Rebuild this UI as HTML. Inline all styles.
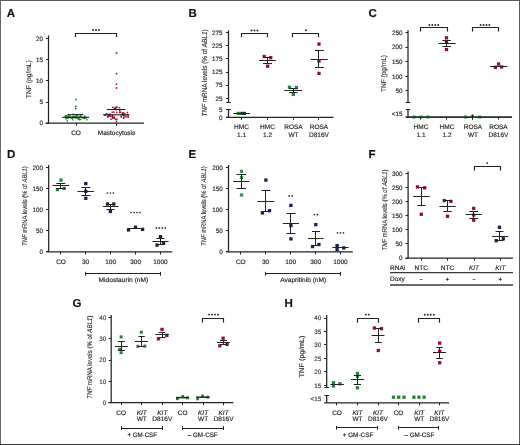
<!DOCTYPE html>
<html><head><meta charset="utf-8"><title>Figure</title>
<style>
html,body{margin:0;padding:0;background:#fff;}
body{width:520px;height:445px;overflow:hidden;}
svg{display:block;font-family:"Liberation Sans",sans-serif;will-change:transform;text-rendering:geometricPrecision;}
</style></head>
<body>
<svg width="520" height="445" viewBox="0 0 520 445">
<rect x="0" y="0" width="520" height="445" fill="#fff"/>
<text x="6.8" y="16.6" font-size="11.5" text-anchor="start" fill="#111" stroke="#111" stroke-width="0.15" font-weight="bold">A</text>
<line x1="48.5" y1="35.5" x2="48.5" y2="123.2" stroke="#222" stroke-width="1.25"/>
<line x1="45.9" y1="123.5" x2="48.5" y2="123.5" stroke="#222" stroke-width="1.0"/>
<text x="43" y="125.47" font-size="6.3" text-anchor="end" fill="#222" stroke="#222" stroke-width="0.15">0</text>
<line x1="45.9" y1="102.5" x2="48.5" y2="102.5" stroke="#222" stroke-width="1.0"/>
<text x="43" y="104.27" font-size="6.3" text-anchor="end" fill="#222" stroke="#222" stroke-width="0.15">5</text>
<line x1="45.9" y1="80.5" x2="48.5" y2="80.5" stroke="#222" stroke-width="1.0"/>
<text x="43" y="83.07" font-size="6.3" text-anchor="end" fill="#222" stroke="#222" stroke-width="0.15">10</text>
<line x1="45.9" y1="59.5" x2="48.5" y2="59.5" stroke="#222" stroke-width="1.0"/>
<text x="43" y="61.87" font-size="6.3" text-anchor="end" fill="#222" stroke="#222" stroke-width="0.15">15</text>
<line x1="45.9" y1="38.5" x2="48.5" y2="38.5" stroke="#222" stroke-width="1.0"/>
<text x="43" y="40.77" font-size="6.3" text-anchor="end" fill="#222" stroke="#222" stroke-width="0.15">20</text>
<line x1="45.6" y1="123.2" x2="144" y2="123.2" stroke="#222" stroke-width="1.25"/>
<line x1="76.5" y1="123.2" x2="76.5" y2="125.8" stroke="#222" stroke-width="1.0"/>
<line x1="116.5" y1="123.2" x2="116.5" y2="125.8" stroke="#222" stroke-width="1.0"/>
<text x="76" y="134.94" font-size="6.5" text-anchor="middle" fill="#222" stroke="#222" stroke-width="0.15">CO</text>
<text x="116.5" y="134.94" font-size="6.5" text-anchor="middle" fill="#222" stroke="#222" stroke-width="0.15" textLength="37.5" lengthAdjust="spacingAndGlyphs">Mastocytosis</text>
<text transform="translate(30.78,79.2) rotate(-90)" x="0" y="0" font-size="6.9" text-anchor="middle" fill="#2a2a2a" stroke="#2a2a2a" stroke-width="0.12" textLength="38" lengthAdjust="spacingAndGlyphs">TNF (pg/mL)</text>
<path d="M75.5,37.1V33.5H116.5V37.1" fill="none" stroke="#222" stroke-width="1.15"/>
<circle cx="93.05" cy="30" r="0.95" fill="#222"/>
<circle cx="96" cy="30" r="0.95" fill="#222"/>
<circle cx="98.95" cy="30" r="0.95" fill="#222"/>
<rect x="71.25" y="117.64" width="1.4" height="1.4" fill="#1f7f2a"/>
<rect x="65.47" y="118.09" width="1.4" height="1.4" fill="#1f7f2a"/>
<rect x="76.13" y="116.19" width="1.4" height="1.4" fill="#1f7f2a"/>
<rect x="75.47" y="116.85" width="1.4" height="1.4" fill="#1f7f2a"/>
<rect x="64.66" y="116.03" width="1.4" height="1.4" fill="#1f7f2a"/>
<rect x="65.89" y="116.71" width="1.4" height="1.4" fill="#1f7f2a"/>
<rect x="73.56" y="116.82" width="1.4" height="1.4" fill="#1f7f2a"/>
<rect x="68.93" y="115.89" width="1.4" height="1.4" fill="#1f7f2a"/>
<rect x="78.23" y="118.18" width="1.4" height="1.4" fill="#1f7f2a"/>
<rect x="72.92" y="115.93" width="1.4" height="1.4" fill="#1f7f2a"/>
<rect x="86.25" y="119.06" width="1.4" height="1.4" fill="#1f7f2a"/>
<rect x="70.46" y="117.27" width="1.4" height="1.4" fill="#1f7f2a"/>
<rect x="67.12" y="117.36" width="1.4" height="1.4" fill="#1f7f2a"/>
<rect x="82.57" y="117.28" width="1.4" height="1.4" fill="#1f7f2a"/>
<rect x="67.96" y="114.82" width="1.4" height="1.4" fill="#1f7f2a"/>
<rect x="72.37" y="115.55" width="1.4" height="1.4" fill="#1f7f2a"/>
<rect x="76.4" y="116.94" width="1.4" height="1.4" fill="#1f7f2a"/>
<rect x="68.54" y="116.68" width="1.4" height="1.4" fill="#1f7f2a"/>
<rect x="79.45" y="115.45" width="1.4" height="1.4" fill="#1f7f2a"/>
<rect x="77.27" y="117.02" width="1.4" height="1.4" fill="#1f7f2a"/>
<rect x="74.22" y="115.76" width="1.4" height="1.4" fill="#1f7f2a"/>
<rect x="79.88" y="118.78" width="1.4" height="1.4" fill="#1f7f2a"/>
<rect x="69.41" y="115.03" width="1.4" height="1.4" fill="#1f7f2a"/>
<rect x="83.93" y="115.76" width="1.4" height="1.4" fill="#1f7f2a"/>
<rect x="80.58" y="115.61" width="1.4" height="1.4" fill="#1f7f2a"/>
<rect x="66.52" y="120.17" width="1.4" height="1.4" fill="#1f7f2a"/>
<rect x="73.42" y="116.53" width="1.4" height="1.4" fill="#1f7f2a"/>
<rect x="75.05" y="115.73" width="1.4" height="1.4" fill="#1f7f2a"/>
<rect x="64.7" y="115.37" width="1.4" height="1.4" fill="#1f7f2a"/>
<rect x="76.98" y="114.5" width="1.4" height="1.4" fill="#1f7f2a"/>
<rect x="83.94" y="115.69" width="1.4" height="1.4" fill="#1f7f2a"/>
<rect x="77.47" y="118.42" width="1.4" height="1.4" fill="#1f7f2a"/>
<rect x="77.14" y="114.01" width="1.4" height="1.4" fill="#1f7f2a"/>
<rect x="85.53" y="117.2" width="1.4" height="1.4" fill="#1f7f2a"/>
<rect x="74.7" y="116.25" width="1.4" height="1.4" fill="#1f7f2a"/>
<rect x="79.93" y="116.09" width="1.4" height="1.4" fill="#1f7f2a"/>
<rect x="78.68" y="119.01" width="1.4" height="1.4" fill="#1f7f2a"/>
<rect x="70.35" y="116.39" width="1.4" height="1.4" fill="#1f7f2a"/>
<rect x="72.67" y="116.36" width="1.4" height="1.4" fill="#1f7f2a"/>
<rect x="74.42" y="116.25" width="1.4" height="1.4" fill="#1f7f2a"/>
<rect x="67.67" y="116.85" width="1.4" height="1.4" fill="#1f7f2a"/>
<rect x="81.47" y="116.82" width="1.4" height="1.4" fill="#1f7f2a"/>
<rect x="66.77" y="116.52" width="1.4" height="1.4" fill="#1f7f2a"/>
<rect x="83.84" y="117.84" width="1.4" height="1.4" fill="#1f7f2a"/>
<rect x="65.65" y="114.88" width="1.4" height="1.4" fill="#1f7f2a"/>
<rect x="84.12" y="117.04" width="1.4" height="1.4" fill="#1f7f2a"/>
<rect x="82.64" y="117.22" width="1.4" height="1.4" fill="#1f7f2a"/>
<rect x="73.35" y="115.68" width="1.4" height="1.4" fill="#1f7f2a"/>
<rect x="72.05" y="119.04" width="1.4" height="1.4" fill="#1f7f2a"/>
<rect x="67.27" y="114.24" width="1.4" height="1.4" fill="#1f7f2a"/>
<rect x="67.85" y="116.61" width="1.4" height="1.4" fill="#1f7f2a"/>
<rect x="74.95" y="117.48" width="1.4" height="1.4" fill="#1f7f2a"/>
<rect x="77.35" y="116.49" width="1.4" height="1.4" fill="#1f7f2a"/>
<rect x="73.44" y="116.62" width="1.4" height="1.4" fill="#1f7f2a"/>
<rect x="72.29" y="113.45" width="1.4" height="1.4" fill="#1f7f2a"/>
<rect x="79.68" y="115.15" width="1.4" height="1.4" fill="#1f7f2a"/>
<rect x="75.66" y="115" width="1.4" height="1.4" fill="#1f7f2a"/>
<rect x="65.04" y="115.13" width="1.4" height="1.4" fill="#1f7f2a"/>
<rect x="84.49" y="117.01" width="1.4" height="1.4" fill="#1f7f2a"/>
<rect x="82.15" y="113.8" width="1.4" height="1.4" fill="#1f7f2a"/>
<rect x="72.82" y="115.99" width="1.4" height="1.4" fill="#1f7f2a"/>
<rect x="78.39" y="116.87" width="1.4" height="1.4" fill="#1f7f2a"/>
<rect x="65.23" y="117.34" width="1.4" height="1.4" fill="#1f7f2a"/>
<rect x="67.53" y="116.88" width="1.4" height="1.4" fill="#1f7f2a"/>
<rect x="71.62" y="116.53" width="1.4" height="1.4" fill="#1f7f2a"/>
<rect x="67.28" y="116.51" width="1.4" height="1.4" fill="#1f7f2a"/>
<rect x="66.13" y="116.3" width="1.4" height="1.4" fill="#1f7f2a"/>
<rect x="83.91" y="116.73" width="1.4" height="1.4" fill="#1f7f2a"/>
<rect x="77.92" y="117.11" width="1.4" height="1.4" fill="#1f7f2a"/>
<rect x="71.79" y="117.33" width="1.4" height="1.4" fill="#1f7f2a"/>
<rect x="75" y="98.7" width="1.6" height="1.6" fill="#1f7f2a"/>
<rect x="75" y="105.6" width="1.6" height="1.6" fill="#1f7f2a"/>
<rect x="75" y="107.9" width="1.6" height="1.6" fill="#1f7f2a"/>
<line x1="62.2" y1="117.3" x2="89" y2="117.3" stroke="#1a1a1a" stroke-width="1.1"/>
<line x1="68" y1="114.5" x2="83" y2="114.5" stroke="#1a1a1a" stroke-width="0.9"/>
<rect x="114.53" y="106.75" width="1.5" height="1.5" fill="#9a0c30"/>
<rect x="118.89" y="111.71" width="1.5" height="1.5" fill="#9a0c30"/>
<rect x="115.44" y="108.81" width="1.5" height="1.5" fill="#9a0c30"/>
<rect x="112.02" y="106.63" width="1.5" height="1.5" fill="#9a0c30"/>
<rect x="114.33" y="107.56" width="1.5" height="1.5" fill="#9a0c30"/>
<rect x="118.71" y="106.97" width="1.5" height="1.5" fill="#9a0c30"/>
<rect x="111.46" y="111.47" width="1.5" height="1.5" fill="#9a0c30"/>
<rect x="116" y="106.89" width="1.5" height="1.5" fill="#9a0c30"/>
<rect x="116.14" y="106.2" width="1.5" height="1.5" fill="#9a0c30"/>
<rect x="116" y="111.63" width="1.5" height="1.5" fill="#9a0c30"/>
<rect x="119.02" y="110.02" width="1.5" height="1.5" fill="#9a0c30"/>
<rect x="113.6" y="108.14" width="1.5" height="1.5" fill="#9a0c30"/>
<rect x="107.76" y="114.65" width="1.5" height="1.5" fill="#9a0c30"/>
<rect x="122.45" y="112.98" width="1.5" height="1.5" fill="#9a0c30"/>
<rect x="111.66" y="114.82" width="1.5" height="1.5" fill="#9a0c30"/>
<rect x="127.39" y="116.61" width="1.5" height="1.5" fill="#9a0c30"/>
<rect x="124.21" y="115.21" width="1.5" height="1.5" fill="#9a0c30"/>
<rect x="121.51" y="112.37" width="1.5" height="1.5" fill="#9a0c30"/>
<rect x="109.19" y="113.33" width="1.5" height="1.5" fill="#9a0c30"/>
<rect x="104.45" y="114.33" width="1.5" height="1.5" fill="#9a0c30"/>
<rect x="104.42" y="114.28" width="1.5" height="1.5" fill="#9a0c30"/>
<rect x="120.37" y="115.36" width="1.5" height="1.5" fill="#9a0c30"/>
<rect x="126.71" y="111.78" width="1.5" height="1.5" fill="#9a0c30"/>
<rect x="127.46" y="115.37" width="1.5" height="1.5" fill="#9a0c30"/>
<rect x="126.67" y="113.89" width="1.5" height="1.5" fill="#9a0c30"/>
<rect x="109.19" y="115.09" width="1.5" height="1.5" fill="#9a0c30"/>
<rect x="108.47" y="114.92" width="1.5" height="1.5" fill="#9a0c30"/>
<rect x="125.36" y="116.06" width="1.5" height="1.5" fill="#9a0c30"/>
<rect x="123.92" y="112.72" width="1.5" height="1.5" fill="#9a0c30"/>
<rect x="122.94" y="114.67" width="1.5" height="1.5" fill="#9a0c30"/>
<rect x="105.78" y="113.05" width="1.5" height="1.5" fill="#9a0c30"/>
<rect x="122.53" y="112.22" width="1.5" height="1.5" fill="#9a0c30"/>
<rect x="121.75" y="113.7" width="1.5" height="1.5" fill="#9a0c30"/>
<rect x="122.69" y="114.55" width="1.5" height="1.5" fill="#9a0c30"/>
<rect x="111.73" y="115.46" width="1.5" height="1.5" fill="#9a0c30"/>
<rect x="113.25" y="111.41" width="1.5" height="1.5" fill="#9a0c30"/>
<rect x="113.38" y="116.27" width="1.5" height="1.5" fill="#9a0c30"/>
<rect x="107.83" y="113.82" width="1.5" height="1.5" fill="#9a0c30"/>
<rect x="106.8" y="115.96" width="1.5" height="1.5" fill="#9a0c30"/>
<rect x="123.11" y="116.57" width="1.5" height="1.5" fill="#9a0c30"/>
<rect x="107.26" y="116.01" width="1.5" height="1.5" fill="#9a0c30"/>
<rect x="119.52" y="111.47" width="1.5" height="1.5" fill="#9a0c30"/>
<rect x="113.51" y="117.4" width="1.5" height="1.5" fill="#9a0c30"/>
<rect x="110.21" y="115.79" width="1.5" height="1.5" fill="#9a0c30"/>
<rect x="122.81" y="117.7" width="1.5" height="1.5" fill="#9a0c30"/>
<rect x="116.15" y="118.55" width="1.5" height="1.5" fill="#9a0c30"/>
<rect x="114.76" y="118.37" width="1.5" height="1.5" fill="#9a0c30"/>
<rect x="120.64" y="116.38" width="1.5" height="1.5" fill="#9a0c30"/>
<rect x="112.03" y="116.63" width="1.5" height="1.5" fill="#9a0c30"/>
<rect x="111.86" y="117.51" width="1.5" height="1.5" fill="#9a0c30"/>
<rect x="112.14" y="117.01" width="1.5" height="1.5" fill="#9a0c30"/>
<rect x="110.22" y="118.48" width="1.5" height="1.5" fill="#9a0c30"/>
<rect x="115.7" y="52.2" width="1.6" height="1.6" fill="#9a0c30"/>
<rect x="115.7" y="72.8" width="1.6" height="1.6" fill="#9a0c30"/>
<rect x="115.7" y="83.4" width="1.6" height="1.6" fill="#9a0c30"/>
<rect x="115.7" y="87.2" width="1.6" height="1.6" fill="#9a0c30"/>
<rect x="115.7" y="120.6" width="1.6" height="1.6" fill="#9a0c30"/>
<line x1="103" y1="114.8" x2="129.5" y2="114.8" stroke="#1a1a1a" stroke-width="1.1"/>
<line x1="107" y1="109.5" x2="125.2" y2="109.5" stroke="#1a1a1a" stroke-width="1.0"/>
<text x="188.5" y="16.8" font-size="11.5" text-anchor="start" fill="#111" stroke="#111" stroke-width="0.15" font-weight="bold">B</text>
<line x1="228.5" y1="30.3" x2="228.5" y2="102.4" stroke="#222" stroke-width="1.25"/>
<line x1="228.5" y1="109.7" x2="228.5" y2="117.3" stroke="#222" stroke-width="1.25"/>
<line x1="226.2" y1="102.5" x2="230.8" y2="102.5" stroke="#222" stroke-width="1.0"/>
<line x1="226.2" y1="109.5" x2="230.8" y2="109.5" stroke="#222" stroke-width="1.0"/>
<line x1="225.9" y1="32.5" x2="228.5" y2="32.5" stroke="#222" stroke-width="1.0"/>
<text x="222.6" y="34.97" font-size="6.3" text-anchor="end" fill="#222" stroke="#222" stroke-width="0.15">275</text>
<line x1="225.9" y1="45.5" x2="228.5" y2="45.5" stroke="#222" stroke-width="1.0"/>
<text x="222.6" y="48.07" font-size="6.3" text-anchor="end" fill="#222" stroke="#222" stroke-width="0.15">225</text>
<line x1="225.9" y1="58.5" x2="228.5" y2="58.5" stroke="#222" stroke-width="1.0"/>
<text x="222.6" y="61.17" font-size="6.3" text-anchor="end" fill="#222" stroke="#222" stroke-width="0.15">175</text>
<line x1="225.9" y1="72.5" x2="228.5" y2="72.5" stroke="#222" stroke-width="1.0"/>
<text x="222.6" y="74.27" font-size="6.3" text-anchor="end" fill="#222" stroke="#222" stroke-width="0.15">125</text>
<line x1="225.9" y1="85.5" x2="228.5" y2="85.5" stroke="#222" stroke-width="1.0"/>
<text x="222.6" y="87.47" font-size="6.3" text-anchor="end" fill="#222" stroke="#222" stroke-width="0.15">75</text>
<line x1="225.9" y1="98.5" x2="228.5" y2="98.5" stroke="#222" stroke-width="1.0"/>
<text x="222.6" y="100.57" font-size="6.3" text-anchor="end" fill="#222" stroke="#222" stroke-width="0.15">25</text>
<line x1="225.9" y1="109.5" x2="228.5" y2="109.5" stroke="#222" stroke-width="1.0"/>
<text x="222.6" y="111.97" font-size="6.3" text-anchor="end" fill="#222" stroke="#222" stroke-width="0.15">5</text>
<line x1="225.9" y1="117.5" x2="228.5" y2="117.5" stroke="#222" stroke-width="1.0"/>
<text x="222.6" y="119.57" font-size="6.3" text-anchor="end" fill="#222" stroke="#222" stroke-width="0.15">0</text>
<line x1="226" y1="117.3" x2="333.5" y2="117.3" stroke="#222" stroke-width="1.25"/>
<line x1="241.5" y1="117.3" x2="241.5" y2="119.9" stroke="#222" stroke-width="1.0"/>
<line x1="267.5" y1="117.3" x2="267.5" y2="119.9" stroke="#222" stroke-width="1.0"/>
<line x1="293.5" y1="117.3" x2="293.5" y2="119.9" stroke="#222" stroke-width="1.0"/>
<line x1="318.5" y1="117.3" x2="318.5" y2="119.9" stroke="#222" stroke-width="1.0"/>
<text x="241.5" y="128.74" font-size="6.5" text-anchor="middle" fill="#222" stroke="#222" stroke-width="0.15">HMC</text>
<text x="241.5" y="136.94" font-size="6.5" text-anchor="middle" fill="#222" stroke="#222" stroke-width="0.15">1.1</text>
<text x="267.5" y="128.74" font-size="6.5" text-anchor="middle" fill="#222" stroke="#222" stroke-width="0.15">HMC</text>
<text x="267.5" y="136.94" font-size="6.5" text-anchor="middle" fill="#222" stroke="#222" stroke-width="0.15">1.2</text>
<text x="293.5" y="128.74" font-size="6.5" text-anchor="middle" fill="#222" stroke="#222" stroke-width="0.15">ROSA</text>
<text x="293.5" y="136.94" font-size="6.5" text-anchor="middle" fill="#222" stroke="#222" stroke-width="0.15">WT</text>
<text x="319" y="128.74" font-size="6.5" text-anchor="middle" fill="#222" stroke="#222" stroke-width="0.15">ROSA</text>
<text x="319" y="136.94" font-size="6.5" text-anchor="middle" fill="#222" stroke="#222" stroke-width="0.15">D816V</text>
<text transform="translate(206.63,72.9) rotate(-90)" x="0" y="0" font-size="7.3" text-anchor="middle" fill="#2a2a2a" stroke="#2a2a2a" stroke-width="0.12" textLength="87" lengthAdjust="spacingAndGlyphs"><tspan font-style="italic">TNF</tspan> mRNA levels (% of <tspan font-style="italic">ABL1</tspan>)</text>
<path d="M241.5,37.2V33.5H267.5V37.2" fill="none" stroke="#222" stroke-width="1.15"/>
<circle cx="251.55" cy="30.5" r="0.95" fill="#222"/>
<circle cx="254.5" cy="30.5" r="0.95" fill="#222"/>
<circle cx="257.45" cy="30.5" r="0.95" fill="#222"/>
<path d="M292.5,37.3V33.5H318.5V37.3" fill="none" stroke="#222" stroke-width="1.15"/>
<circle cx="305.9" cy="30.2" r="0.95" fill="#222"/>
<rect x="236.65" y="111.75" width="3.3" height="3.3" fill="#268a33"/>
<line x1="233.4" y1="113.5" x2="250" y2="113.5" stroke="#222" stroke-width="1.0"/>
<rect x="240.2" y="111.8" width="5.8" height="3.2" fill="#1d3a22"/>
<rect x="262.55" y="54.85" width="3.3" height="3.3" fill="#980c2c"/>
<rect x="269.05" y="56.05" width="3.3" height="3.3" fill="#980c2c"/>
<rect x="265.95" y="64.55" width="3.3" height="3.3" fill="#980c2c"/>
<line x1="259.2" y1="60.5" x2="275.8" y2="60.5" stroke="#222" stroke-width="1.0"/>
<line x1="267.5" y1="57.4" x2="267.5" y2="63.1" stroke="#222" stroke-width="1.0"/>
<line x1="263" y1="57.5" x2="272" y2="57.5" stroke="#222" stroke-width="1.0"/>
<line x1="263" y1="63.5" x2="272" y2="63.5" stroke="#222" stroke-width="1.0"/>
<rect x="287.85" y="85.55" width="3.3" height="3.3" fill="#268a33"/>
<rect x="294.75" y="85.85" width="3.3" height="3.3" fill="#268a33"/>
<rect x="291.65" y="92.75" width="3.3" height="3.3" fill="#268a33"/>
<line x1="284.3" y1="90.5" x2="302" y2="90.5" stroke="#222" stroke-width="1.0"/>
<line x1="293.5" y1="88.3" x2="293.5" y2="92.2" stroke="#222" stroke-width="1.0"/>
<line x1="289" y1="88.5" x2="297.6" y2="88.5" stroke="#222" stroke-width="1.0"/>
<line x1="289" y1="92.5" x2="297.6" y2="92.5" stroke="#222" stroke-width="1.0"/>
<rect x="317.35" y="42.45" width="3.3" height="3.3" fill="#980c2c"/>
<rect x="317.35" y="59.35" width="3.3" height="3.3" fill="#980c2c"/>
<rect x="317.35" y="71.75" width="3.3" height="3.3" fill="#980c2c"/>
<line x1="310.7" y1="59.5" x2="327.8" y2="59.5" stroke="#222" stroke-width="1.0"/>
<line x1="318.5" y1="51" x2="318.5" y2="67.8" stroke="#222" stroke-width="1.0"/>
<line x1="315" y1="50.5" x2="323.9" y2="50.5" stroke="#222" stroke-width="1.0"/>
<line x1="315" y1="67.5" x2="323.9" y2="67.5" stroke="#222" stroke-width="1.0"/>
<text x="368.5" y="16.8" font-size="11.5" text-anchor="start" fill="#111" stroke="#111" stroke-width="0.15" font-weight="bold">C</text>
<line x1="408" y1="30.3" x2="408" y2="102.4" stroke="#222" stroke-width="1.25"/>
<line x1="408" y1="109.6" x2="408" y2="117" stroke="#222" stroke-width="1.25"/>
<line x1="405.7" y1="102.5" x2="410.3" y2="102.5" stroke="#222" stroke-width="1.0"/>
<line x1="405.7" y1="109.5" x2="410.3" y2="109.5" stroke="#222" stroke-width="1.0"/>
<line x1="405.4" y1="32.5" x2="408" y2="32.5" stroke="#222" stroke-width="1.0"/>
<text x="402.4" y="34.87" font-size="6.3" text-anchor="end" fill="#222" stroke="#222" stroke-width="0.15">250</text>
<line x1="405.4" y1="47.5" x2="408" y2="47.5" stroke="#222" stroke-width="1.0"/>
<text x="402.4" y="49.42" font-size="6.3" text-anchor="end" fill="#222" stroke="#222" stroke-width="0.15">200</text>
<line x1="405.4" y1="61.5" x2="408" y2="61.5" stroke="#222" stroke-width="1.0"/>
<text x="402.4" y="63.97" font-size="6.3" text-anchor="end" fill="#222" stroke="#222" stroke-width="0.15">150</text>
<line x1="405.4" y1="76.5" x2="408" y2="76.5" stroke="#222" stroke-width="1.0"/>
<text x="402.4" y="78.52" font-size="6.3" text-anchor="end" fill="#222" stroke="#222" stroke-width="0.15">100</text>
<line x1="405.4" y1="90.5" x2="408" y2="90.5" stroke="#222" stroke-width="1.0"/>
<text x="402.4" y="93.07" font-size="6.3" text-anchor="end" fill="#222" stroke="#222" stroke-width="0.15">50</text>
<text x="402.4" y="115.67" font-size="6.3" text-anchor="end" fill="#222" stroke="#222" stroke-width="0.15">&lt;15</text>
<line x1="405.8" y1="117" x2="512" y2="117" stroke="#222" stroke-width="1.25"/>
<line x1="420.5" y1="117" x2="420.5" y2="119.6" stroke="#222" stroke-width="1.0"/>
<line x1="446.5" y1="117" x2="446.5" y2="119.6" stroke="#222" stroke-width="1.0"/>
<line x1="472.5" y1="117" x2="472.5" y2="119.6" stroke="#222" stroke-width="1.0"/>
<line x1="498.5" y1="117" x2="498.5" y2="119.6" stroke="#222" stroke-width="1.0"/>
<text x="421" y="128.74" font-size="6.5" text-anchor="middle" fill="#222" stroke="#222" stroke-width="0.15">HMC</text>
<text x="421" y="136.94" font-size="6.5" text-anchor="middle" fill="#222" stroke="#222" stroke-width="0.15">1.1</text>
<text x="447" y="128.74" font-size="6.5" text-anchor="middle" fill="#222" stroke="#222" stroke-width="0.15">HMC</text>
<text x="447" y="136.94" font-size="6.5" text-anchor="middle" fill="#222" stroke="#222" stroke-width="0.15">1.2</text>
<text x="473" y="128.74" font-size="6.5" text-anchor="middle" fill="#222" stroke="#222" stroke-width="0.15">ROSA</text>
<text x="473" y="136.94" font-size="6.5" text-anchor="middle" fill="#222" stroke="#222" stroke-width="0.15">WT</text>
<text x="498.5" y="128.74" font-size="6.5" text-anchor="middle" fill="#222" stroke="#222" stroke-width="0.15">ROSA</text>
<text x="498.5" y="136.94" font-size="6.5" text-anchor="middle" fill="#222" stroke="#222" stroke-width="0.15">D816V</text>
<text transform="translate(385.88,73.5) rotate(-90)" x="0" y="0" font-size="6.9" text-anchor="middle" fill="#2a2a2a" stroke="#2a2a2a" stroke-width="0.12" textLength="37" lengthAdjust="spacingAndGlyphs">TNF (pg/mL)</text>
<path d="M420.5,31.5V27.5H447.5V31.5" fill="none" stroke="#222" stroke-width="1.15"/>
<circle cx="429.38" cy="25" r="0.95" fill="#222"/>
<circle cx="432.32" cy="25" r="0.95" fill="#222"/>
<circle cx="435.27" cy="25" r="0.95" fill="#222"/>
<circle cx="438.23" cy="25" r="0.95" fill="#222"/>
<path d="M472.5,31.4V27.5H498.5V31.4" fill="none" stroke="#222" stroke-width="1.15"/>
<circle cx="480.57" cy="25" r="0.95" fill="#222"/>
<circle cx="483.52" cy="25" r="0.95" fill="#222"/>
<circle cx="486.47" cy="25" r="0.95" fill="#222"/>
<circle cx="489.43" cy="25" r="0.95" fill="#222"/>
<rect x="412.5" y="115.5" width="3" height="3" fill="#268a33"/>
<rect x="419.3" y="115.5" width="3" height="3" fill="#268a33"/>
<rect x="426.3" y="115.5" width="3" height="3" fill="#268a33"/>
<rect x="444.85" y="36.15" width="3.3" height="3.3" fill="#980c2c"/>
<rect x="444.85" y="39.85" width="3.3" height="3.3" fill="#980c2c"/>
<rect x="444.85" y="47.85" width="3.3" height="3.3" fill="#980c2c"/>
<line x1="438.4" y1="43.5" x2="455.6" y2="43.5" stroke="#222" stroke-width="1.0"/>
<line x1="446.5" y1="40.1" x2="446.5" y2="46.2" stroke="#222" stroke-width="1.0"/>
<line x1="442.4" y1="40.5" x2="450.9" y2="40.5" stroke="#222" stroke-width="1.0"/>
<line x1="442.4" y1="46.5" x2="450.9" y2="46.5" stroke="#222" stroke-width="1.0"/>
<rect x="464" y="115.5" width="3" height="3" fill="#268a33"/>
<rect x="470.9" y="114.8" width="3" height="3" fill="#268a33"/>
<rect x="478.2" y="115.5" width="3" height="3" fill="#268a33"/>
<line x1="405.8" y1="117" x2="512" y2="117" stroke="#1e2a1e" stroke-width="1.25"/>
<line x1="472.5" y1="114.5" x2="472.5" y2="119.6" stroke="#222" stroke-width="1.0"/>
<rect x="493.75" y="65.65" width="3.3" height="3.3" fill="#980c2c"/>
<rect x="496.95" y="62.35" width="3.3" height="3.3" fill="#980c2c"/>
<rect x="499.95" y="65.35" width="3.3" height="3.3" fill="#980c2c"/>
<line x1="490" y1="66.5" x2="507.3" y2="66.5" stroke="#222" stroke-width="1.0"/>
<text x="7" y="158" font-size="11.5" text-anchor="start" fill="#111" stroke="#111" stroke-width="0.15" font-weight="bold">D</text>
<line x1="48.7" y1="165" x2="48.7" y2="251.8" stroke="#222" stroke-width="1.25"/>
<line x1="46.1" y1="167.5" x2="48.7" y2="167.5" stroke="#222" stroke-width="1.0"/>
<text x="43" y="169.57" font-size="6.3" text-anchor="end" fill="#222" stroke="#222" stroke-width="0.15">200</text>
<line x1="46.1" y1="188.5" x2="48.7" y2="188.5" stroke="#222" stroke-width="1.0"/>
<text x="43" y="190.67" font-size="6.3" text-anchor="end" fill="#222" stroke="#222" stroke-width="0.15">150</text>
<line x1="46.1" y1="209.5" x2="48.7" y2="209.5" stroke="#222" stroke-width="1.0"/>
<text x="43" y="211.87" font-size="6.3" text-anchor="end" fill="#222" stroke="#222" stroke-width="0.15">100</text>
<line x1="46.1" y1="230.5" x2="48.7" y2="230.5" stroke="#222" stroke-width="1.0"/>
<text x="43" y="232.87" font-size="6.3" text-anchor="end" fill="#222" stroke="#222" stroke-width="0.15">50</text>
<line x1="46.1" y1="251.5" x2="48.7" y2="251.5" stroke="#222" stroke-width="1.0"/>
<text x="43" y="254.07" font-size="6.3" text-anchor="end" fill="#222" stroke="#222" stroke-width="0.15">0</text>
<line x1="46.4" y1="251.8" x2="172.3" y2="251.8" stroke="#222" stroke-width="1.25"/>
<line x1="60.5" y1="251.8" x2="60.5" y2="254.4" stroke="#222" stroke-width="1.0"/>
<line x1="85.5" y1="251.8" x2="85.5" y2="254.4" stroke="#222" stroke-width="1.0"/>
<line x1="110.5" y1="251.8" x2="110.5" y2="254.4" stroke="#222" stroke-width="1.0"/>
<line x1="135.5" y1="251.8" x2="135.5" y2="254.4" stroke="#222" stroke-width="1.0"/>
<line x1="160.5" y1="251.8" x2="160.5" y2="254.4" stroke="#222" stroke-width="1.0"/>
<text x="61" y="263.74" font-size="6.5" text-anchor="middle" fill="#222" stroke="#222" stroke-width="0.15">CO</text>
<text x="85.6" y="263.74" font-size="6.5" text-anchor="middle" fill="#222" stroke="#222" stroke-width="0.15">30</text>
<text x="110.6" y="263.74" font-size="6.5" text-anchor="middle" fill="#222" stroke="#222" stroke-width="0.15">100</text>
<text x="135.6" y="263.74" font-size="6.5" text-anchor="middle" fill="#222" stroke="#222" stroke-width="0.15">300</text>
<text x="160.4" y="263.74" font-size="6.5" text-anchor="middle" fill="#222" stroke="#222" stroke-width="0.15">1000</text>
<line x1="85.6" y1="273.5" x2="160.3" y2="273.5" stroke="#222" stroke-width="1.0"/>
<line x1="85.5" y1="271.9" x2="85.5" y2="275.7" stroke="#222" stroke-width="1.0"/>
<line x1="160.5" y1="271.9" x2="160.5" y2="275.7" stroke="#222" stroke-width="1.0"/>
<text x="123.4" y="282.04" font-size="6.5" text-anchor="middle" fill="#222" stroke="#222" stroke-width="0.15" textLength="49.8" lengthAdjust="spacingAndGlyphs">Midostaurin (nM)</text>
<text transform="translate(26.85,206) rotate(-90)" x="0" y="0" font-size="6.8" text-anchor="middle" fill="#2a2a2a" stroke="#2a2a2a" stroke-width="0.12" textLength="79.5" lengthAdjust="spacingAndGlyphs"><tspan font-style="italic">TNF</tspan> mRNA levels (% of <tspan font-style="italic">ABL1</tspan>)</text>
<rect x="59.35" y="178.45" width="3.3" height="3.3" fill="#268a33"/>
<rect x="55.85" y="187.95" width="3.3" height="3.3" fill="#268a33"/>
<rect x="62.55" y="186.75" width="3.3" height="3.3" fill="#268a33"/>
<line x1="52.6" y1="185.5" x2="69" y2="185.5" stroke="#222" stroke-width="1.0"/>
<line x1="60.5" y1="183.3" x2="60.5" y2="188.7" stroke="#222" stroke-width="1.0"/>
<line x1="56.4" y1="183.5" x2="65.3" y2="183.5" stroke="#222" stroke-width="1.0"/>
<line x1="56.4" y1="188.5" x2="65.3" y2="188.5" stroke="#222" stroke-width="1.0"/>
<rect x="84.15" y="181.95" width="3.3" height="3.3" fill="#17204e"/>
<rect x="84.15" y="189.65" width="3.3" height="3.3" fill="#17204e"/>
<rect x="84.15" y="196.65" width="3.3" height="3.3" fill="#17204e"/>
<line x1="77.5" y1="191.5" x2="93.9" y2="191.5" stroke="#222" stroke-width="1.0"/>
<line x1="85.5" y1="187.3" x2="85.5" y2="195.4" stroke="#222" stroke-width="1.0"/>
<line x1="81.5" y1="187.5" x2="90.5" y2="187.5" stroke="#222" stroke-width="1.0"/>
<line x1="81.5" y1="195.5" x2="90.5" y2="195.5" stroke="#222" stroke-width="1.0"/>
<rect x="105.85" y="202.35" width="3.3" height="3.3" fill="#17204e"/>
<rect x="112.15" y="202.35" width="3.3" height="3.3" fill="#17204e"/>
<rect x="108.75" y="209.85" width="3.3" height="3.3" fill="#17204e"/>
<line x1="102.9" y1="206.5" x2="118.4" y2="206.5" stroke="#222" stroke-width="1.0"/>
<line x1="110.5" y1="204.6" x2="110.5" y2="209.2" stroke="#222" stroke-width="1.0"/>
<line x1="106.4" y1="204.5" x2="114.5" y2="204.5" stroke="#222" stroke-width="1.0"/>
<line x1="106.4" y1="209.5" x2="114.5" y2="209.5" stroke="#222" stroke-width="1.0"/>
<circle cx="107.4" cy="193" r="0.85" fill="#2a2a2a"/>
<circle cx="110.4" cy="193" r="0.85" fill="#2a2a2a"/>
<circle cx="113.4" cy="193" r="0.85" fill="#2a2a2a"/>
<rect x="126.85" y="228.25" width="3.3" height="3.3" fill="#17204e"/>
<rect x="133.85" y="225.55" width="3.3" height="3.3" fill="#17204e"/>
<rect x="140.95" y="227.75" width="3.3" height="3.3" fill="#17204e"/>
<line x1="127.8" y1="228.5" x2="143.3" y2="228.5" stroke="#222" stroke-width="1.0"/>
<circle cx="131" cy="212.5" r="0.85" fill="#2a2a2a"/>
<circle cx="134" cy="212.5" r="0.85" fill="#2a2a2a"/>
<circle cx="137" cy="212.5" r="0.85" fill="#2a2a2a"/>
<circle cx="140" cy="212.5" r="0.85" fill="#2a2a2a"/>
<rect x="158.85" y="235.05" width="3.3" height="3.3" fill="#17204e"/>
<rect x="155.35" y="243.45" width="3.3" height="3.3" fill="#17204e"/>
<rect x="161.85" y="241.75" width="3.3" height="3.3" fill="#17204e"/>
<line x1="152.5" y1="241.5" x2="168.6" y2="241.5" stroke="#222" stroke-width="1.0"/>
<line x1="160.5" y1="239" x2="160.5" y2="244.5" stroke="#222" stroke-width="1.0"/>
<line x1="156.5" y1="238.5" x2="164.5" y2="238.5" stroke="#222" stroke-width="1.0"/>
<line x1="156.5" y1="244.5" x2="164.5" y2="244.5" stroke="#222" stroke-width="1.0"/>
<circle cx="156.3" cy="227.9" r="0.85" fill="#2a2a2a"/>
<circle cx="159.3" cy="227.9" r="0.85" fill="#2a2a2a"/>
<circle cx="162.3" cy="227.9" r="0.85" fill="#2a2a2a"/>
<circle cx="165.3" cy="227.9" r="0.85" fill="#2a2a2a"/>
<text x="188.5" y="158" font-size="11.5" text-anchor="start" fill="#111" stroke="#111" stroke-width="0.15" font-weight="bold">E</text>
<line x1="228.5" y1="165" x2="228.5" y2="251.8" stroke="#222" stroke-width="1.25"/>
<line x1="225.9" y1="167.5" x2="228.5" y2="167.5" stroke="#222" stroke-width="1.0"/>
<text x="222.8" y="169.57" font-size="6.3" text-anchor="end" fill="#222" stroke="#222" stroke-width="0.15">200</text>
<line x1="225.9" y1="188.5" x2="228.5" y2="188.5" stroke="#222" stroke-width="1.0"/>
<text x="222.8" y="190.67" font-size="6.3" text-anchor="end" fill="#222" stroke="#222" stroke-width="0.15">150</text>
<line x1="225.9" y1="209.5" x2="228.5" y2="209.5" stroke="#222" stroke-width="1.0"/>
<text x="222.8" y="211.87" font-size="6.3" text-anchor="end" fill="#222" stroke="#222" stroke-width="0.15">100</text>
<line x1="225.9" y1="230.5" x2="228.5" y2="230.5" stroke="#222" stroke-width="1.0"/>
<text x="222.8" y="232.87" font-size="6.3" text-anchor="end" fill="#222" stroke="#222" stroke-width="0.15">50</text>
<line x1="225.9" y1="251.5" x2="228.5" y2="251.5" stroke="#222" stroke-width="1.0"/>
<text x="222.8" y="254.07" font-size="6.3" text-anchor="end" fill="#222" stroke="#222" stroke-width="0.15">0</text>
<line x1="226.3" y1="251.8" x2="352.8" y2="251.8" stroke="#222" stroke-width="1.25"/>
<line x1="240.5" y1="251.8" x2="240.5" y2="254.4" stroke="#222" stroke-width="1.0"/>
<line x1="265.5" y1="251.8" x2="265.5" y2="254.4" stroke="#222" stroke-width="1.0"/>
<line x1="290.5" y1="251.8" x2="290.5" y2="254.4" stroke="#222" stroke-width="1.0"/>
<line x1="315.5" y1="251.8" x2="315.5" y2="254.4" stroke="#222" stroke-width="1.0"/>
<line x1="340.5" y1="251.8" x2="340.5" y2="254.4" stroke="#222" stroke-width="1.0"/>
<text x="240.8" y="263.74" font-size="6.5" text-anchor="middle" fill="#222" stroke="#222" stroke-width="0.15">CO</text>
<text x="265.6" y="263.74" font-size="6.5" text-anchor="middle" fill="#222" stroke="#222" stroke-width="0.15">30</text>
<text x="290.6" y="263.74" font-size="6.5" text-anchor="middle" fill="#222" stroke="#222" stroke-width="0.15">100</text>
<text x="315.6" y="263.74" font-size="6.5" text-anchor="middle" fill="#222" stroke="#222" stroke-width="0.15">300</text>
<text x="340.4" y="263.74" font-size="6.5" text-anchor="middle" fill="#222" stroke="#222" stroke-width="0.15">1000</text>
<line x1="265.6" y1="273.5" x2="340.2" y2="273.5" stroke="#222" stroke-width="1.0"/>
<line x1="265.5" y1="271.9" x2="265.5" y2="275.7" stroke="#222" stroke-width="1.0"/>
<line x1="340.5" y1="271.9" x2="340.5" y2="275.7" stroke="#222" stroke-width="1.0"/>
<text x="303.2" y="282.04" font-size="6.5" text-anchor="middle" fill="#222" stroke="#222" stroke-width="0.15" textLength="46.1" lengthAdjust="spacingAndGlyphs">Avapritinib (nM)</text>
<text transform="translate(206.45,206) rotate(-90)" x="0" y="0" font-size="6.8" text-anchor="middle" fill="#2a2a2a" stroke="#2a2a2a" stroke-width="0.12" textLength="79.5" lengthAdjust="spacingAndGlyphs"><tspan font-style="italic">TNF</tspan> mRNA levels (% of <tspan font-style="italic">ABL1</tspan>)</text>
<rect x="239.85" y="169.65" width="3.3" height="3.3" fill="#3f9058"/>
<rect x="239.85" y="175.85" width="3.3" height="3.3" fill="#3f9058"/>
<rect x="239.85" y="193.35" width="3.3" height="3.3" fill="#3f9058"/>
<line x1="233.2" y1="181.5" x2="249.3" y2="181.5" stroke="#222" stroke-width="1.0"/>
<line x1="241.5" y1="174.2" x2="241.5" y2="188.5" stroke="#222" stroke-width="1.0"/>
<line x1="236.5" y1="174.5" x2="246" y2="174.5" stroke="#222" stroke-width="1.0"/>
<line x1="236.5" y1="188.5" x2="246" y2="188.5" stroke="#222" stroke-width="1.0"/>
<rect x="264.25" y="178.45" width="3.3" height="3.3" fill="#17204e"/>
<rect x="260.75" y="211.25" width="3.3" height="3.3" fill="#17204e"/>
<rect x="267.85" y="209.05" width="3.3" height="3.3" fill="#17204e"/>
<line x1="257.4" y1="201.5" x2="274.3" y2="201.5" stroke="#222" stroke-width="1.0"/>
<line x1="265.5" y1="190.9" x2="265.5" y2="211.8" stroke="#222" stroke-width="1.0"/>
<line x1="261.5" y1="190.5" x2="270.2" y2="190.5" stroke="#222" stroke-width="1.0"/>
<line x1="261.5" y1="211.5" x2="270.2" y2="211.5" stroke="#222" stroke-width="1.0"/>
<rect x="289.25" y="203.75" width="3.3" height="3.3" fill="#17204e"/>
<rect x="289.25" y="223.95" width="3.3" height="3.3" fill="#17204e"/>
<rect x="289.25" y="237.25" width="3.3" height="3.3" fill="#17204e"/>
<line x1="282.8" y1="223.5" x2="299" y2="223.5" stroke="#222" stroke-width="1.0"/>
<line x1="290.5" y1="213.8" x2="290.5" y2="233.3" stroke="#222" stroke-width="1.0"/>
<line x1="286.5" y1="213.5" x2="295.5" y2="213.5" stroke="#222" stroke-width="1.0"/>
<line x1="286.5" y1="233.5" x2="295.5" y2="233.5" stroke="#222" stroke-width="1.0"/>
<circle cx="289.2" cy="195.9" r="0.85" fill="#2a2a2a"/>
<circle cx="292.2" cy="195.9" r="0.85" fill="#2a2a2a"/>
<rect x="314.15" y="222.95" width="3.3" height="3.3" fill="#17204e"/>
<rect x="310.85" y="244.95" width="3.3" height="3.3" fill="#17204e"/>
<rect x="317.25" y="242.85" width="3.3" height="3.3" fill="#17204e"/>
<line x1="308" y1="238.5" x2="323.6" y2="238.5" stroke="#222" stroke-width="1.0"/>
<line x1="315.5" y1="231.4" x2="315.5" y2="245.5" stroke="#222" stroke-width="1.0"/>
<line x1="312" y1="231.5" x2="320" y2="231.5" stroke="#222" stroke-width="1.0"/>
<line x1="312" y1="245.5" x2="320" y2="245.5" stroke="#222" stroke-width="1.0"/>
<circle cx="314.3" cy="214.6" r="0.85" fill="#2a2a2a"/>
<circle cx="317.3" cy="214.6" r="0.85" fill="#2a2a2a"/>
<rect x="335.45" y="243.95" width="3.3" height="3.3" fill="#17204e"/>
<rect x="335.45" y="247.95" width="3.3" height="3.3" fill="#17204e"/>
<rect x="342.15" y="246.25" width="3.3" height="3.3" fill="#17204e"/>
<line x1="332.4" y1="247.5" x2="348.6" y2="247.5" stroke="#222" stroke-width="1.0"/>
<circle cx="337.5" cy="232.8" r="0.85" fill="#2a2a2a"/>
<circle cx="340.5" cy="232.8" r="0.85" fill="#2a2a2a"/>
<circle cx="343.5" cy="232.8" r="0.85" fill="#2a2a2a"/>
<text x="368.5" y="158" font-size="11.5" text-anchor="start" fill="#111" stroke="#111" stroke-width="0.15" font-weight="bold">F</text>
<line x1="408.1" y1="171.5" x2="408.1" y2="258" stroke="#222" stroke-width="1.25"/>
<line x1="405.5" y1="173.5" x2="408.1" y2="173.5" stroke="#222" stroke-width="1.0"/>
<text x="402.4" y="175.67" font-size="6.3" text-anchor="end" fill="#222" stroke="#222" stroke-width="0.15">300</text>
<line x1="405.5" y1="187.5" x2="408.1" y2="187.5" stroke="#222" stroke-width="1.0"/>
<text x="402.4" y="189.77" font-size="6.3" text-anchor="end" fill="#222" stroke="#222" stroke-width="0.15">250</text>
<line x1="405.5" y1="201.5" x2="408.1" y2="201.5" stroke="#222" stroke-width="1.0"/>
<text x="402.4" y="203.87" font-size="6.3" text-anchor="end" fill="#222" stroke="#222" stroke-width="0.15">200</text>
<line x1="405.5" y1="215.5" x2="408.1" y2="215.5" stroke="#222" stroke-width="1.0"/>
<text x="402.4" y="217.97" font-size="6.3" text-anchor="end" fill="#222" stroke="#222" stroke-width="0.15">150</text>
<line x1="405.5" y1="229.5" x2="408.1" y2="229.5" stroke="#222" stroke-width="1.0"/>
<text x="402.4" y="232.07" font-size="6.3" text-anchor="end" fill="#222" stroke="#222" stroke-width="0.15">100</text>
<line x1="405.5" y1="243.5" x2="408.1" y2="243.5" stroke="#222" stroke-width="1.0"/>
<text x="402.4" y="246.17" font-size="6.3" text-anchor="end" fill="#222" stroke="#222" stroke-width="0.15">50</text>
<line x1="405.5" y1="258.5" x2="408.1" y2="258.5" stroke="#222" stroke-width="1.0"/>
<text x="402.4" y="260.27" font-size="6.3" text-anchor="end" fill="#222" stroke="#222" stroke-width="0.15">0</text>
<line x1="405.6" y1="258" x2="513" y2="258" stroke="#222" stroke-width="1.25"/>
<line x1="421.5" y1="258" x2="421.5" y2="260.6" stroke="#222" stroke-width="1.0"/>
<line x1="447.5" y1="258" x2="447.5" y2="260.6" stroke="#222" stroke-width="1.0"/>
<line x1="474.5" y1="258" x2="474.5" y2="260.6" stroke="#222" stroke-width="1.0"/>
<line x1="500.5" y1="258" x2="500.5" y2="260.6" stroke="#222" stroke-width="1.0"/>
<text x="390" y="269.84" font-size="6.5" text-anchor="start" fill="#222" stroke="#222" stroke-width="0.15">RNAi</text>
<text x="421.2" y="269.84" font-size="6.5" text-anchor="middle" fill="#222" stroke="#222" stroke-width="0.15">NTC</text>
<text x="447.4" y="269.84" font-size="6.5" text-anchor="middle" fill="#222" stroke="#222" stroke-width="0.15">NTC</text>
<text x="474" y="269.84" font-size="6.5" text-anchor="middle" fill="#222" stroke="#222" stroke-width="0.15" font-style="italic">KIT</text>
<text x="500.4" y="269.84" font-size="6.5" text-anchor="middle" fill="#222" stroke="#222" stroke-width="0.15" font-style="italic">KIT</text>
<line x1="390" y1="272.6" x2="513" y2="272.6" stroke="#3a3a3a" stroke-width="1.3"/>
<text x="390" y="281.34" font-size="6.5" text-anchor="start" fill="#222" stroke="#222" stroke-width="0.15">Doxy</text>
<line x1="419.8" y1="279.5" x2="422.6" y2="279.5" stroke="#444" stroke-width="0.8"/>
<line x1="472.6" y1="279.5" x2="475.4" y2="279.5" stroke="#444" stroke-width="0.8"/>
<line x1="445.9" y1="279.5" x2="448.9" y2="279.5" stroke="#333" stroke-width="0.9"/>
<line x1="447.5" y1="277.7" x2="447.5" y2="280.7" stroke="#333" stroke-width="0.9"/>
<line x1="498.7" y1="279.5" x2="501.7" y2="279.5" stroke="#333" stroke-width="0.9"/>
<line x1="500.5" y1="277.7" x2="500.5" y2="280.7" stroke="#333" stroke-width="0.9"/>
<line x1="390" y1="285" x2="513" y2="285" stroke="#3a3a3a" stroke-width="1.3"/>
<text transform="translate(387.08,210) rotate(-90)" x="0" y="0" font-size="6.9" text-anchor="middle" fill="#2a2a2a" stroke="#2a2a2a" stroke-width="0.12" textLength="81" lengthAdjust="spacingAndGlyphs"><tspan font-style="italic">TNF</tspan> mRNA levels (% of <tspan font-style="italic">ABL1</tspan>)</text>
<path d="M474.5,170.6V166.5H500.5V170.6" fill="none" stroke="#222" stroke-width="1.15"/>
<circle cx="487.2" cy="163.1" r="0.95" fill="#222"/>
<rect x="415.85" y="185.25" width="3.3" height="3.3" fill="#980c2c"/>
<rect x="423.05" y="186.15" width="3.3" height="3.3" fill="#980c2c"/>
<rect x="419.65" y="212.65" width="3.3" height="3.3" fill="#980c2c"/>
<line x1="413.2" y1="196.5" x2="429.7" y2="196.5" stroke="#222" stroke-width="1.0"/>
<line x1="421.5" y1="187.5" x2="421.5" y2="205.4" stroke="#222" stroke-width="1.0"/>
<line x1="417.3" y1="187.5" x2="425.6" y2="187.5" stroke="#222" stroke-width="1.0"/>
<line x1="417.3" y1="205.5" x2="425.6" y2="205.5" stroke="#222" stroke-width="1.0"/>
<rect x="442.65" y="198.95" width="3.3" height="3.3" fill="#980c2c"/>
<rect x="449.25" y="199.75" width="3.3" height="3.3" fill="#980c2c"/>
<rect x="445.85" y="214.65" width="3.3" height="3.3" fill="#980c2c"/>
<line x1="439.4" y1="206.5" x2="455.7" y2="206.5" stroke="#222" stroke-width="1.0"/>
<line x1="447.5" y1="201" x2="447.5" y2="211.2" stroke="#222" stroke-width="1.0"/>
<line x1="443.3" y1="200.5" x2="451.8" y2="200.5" stroke="#222" stroke-width="1.0"/>
<line x1="443.3" y1="211.5" x2="451.8" y2="211.5" stroke="#222" stroke-width="1.0"/>
<rect x="472.05" y="206.75" width="3.3" height="3.3" fill="#980c2c"/>
<rect x="472.05" y="213.35" width="3.3" height="3.3" fill="#980c2c"/>
<rect x="472.05" y="218.55" width="3.3" height="3.3" fill="#980c2c"/>
<line x1="465.6" y1="214.5" x2="481.9" y2="214.5" stroke="#222" stroke-width="1.0"/>
<line x1="473.5" y1="211.5" x2="473.5" y2="218" stroke="#222" stroke-width="1.0"/>
<line x1="469.2" y1="211.5" x2="478.2" y2="211.5" stroke="#222" stroke-width="1.0"/>
<line x1="469.2" y1="218.5" x2="478.2" y2="218.5" stroke="#222" stroke-width="1.0"/>
<rect x="497.85" y="225.65" width="3.3" height="3.3" fill="#17204e"/>
<rect x="494.55" y="239.05" width="3.3" height="3.3" fill="#17204e"/>
<rect x="501.65" y="237.15" width="3.3" height="3.3" fill="#17204e"/>
<line x1="492" y1="236.5" x2="508.3" y2="236.5" stroke="#222" stroke-width="1.0"/>
<line x1="499.5" y1="231.8" x2="499.5" y2="240.2" stroke="#222" stroke-width="1.0"/>
<line x1="495.5" y1="231.5" x2="503.5" y2="231.5" stroke="#222" stroke-width="1.0"/>
<line x1="495.5" y1="240.5" x2="503.5" y2="240.5" stroke="#222" stroke-width="1.0"/>
<text x="72.5" y="307.3" font-size="11.5" text-anchor="start" fill="#111" stroke="#111" stroke-width="0.15" font-weight="bold">G</text>
<line x1="111.2" y1="315" x2="111.2" y2="402.6" stroke="#222" stroke-width="1.25"/>
<line x1="108.6" y1="317.5" x2="111.2" y2="317.5" stroke="#222" stroke-width="1.0"/>
<text x="106.3" y="320.07" font-size="6.3" text-anchor="end" fill="#3a3a3a" stroke="#3a3a3a" stroke-width="0.15">40</text>
<line x1="108.6" y1="338.5" x2="111.2" y2="338.5" stroke="#222" stroke-width="1.0"/>
<text x="106.3" y="341.27" font-size="6.3" text-anchor="end" fill="#3a3a3a" stroke="#3a3a3a" stroke-width="0.15">30</text>
<line x1="108.6" y1="360.5" x2="111.2" y2="360.5" stroke="#222" stroke-width="1.0"/>
<text x="106.3" y="362.47" font-size="6.3" text-anchor="end" fill="#3a3a3a" stroke="#3a3a3a" stroke-width="0.15">20</text>
<line x1="108.6" y1="381.5" x2="111.2" y2="381.5" stroke="#222" stroke-width="1.0"/>
<text x="106.3" y="383.67" font-size="6.3" text-anchor="end" fill="#3a3a3a" stroke="#3a3a3a" stroke-width="0.15">10</text>
<line x1="108.6" y1="402.5" x2="111.2" y2="402.5" stroke="#222" stroke-width="1.0"/>
<text x="106.3" y="404.87" font-size="6.3" text-anchor="end" fill="#3a3a3a" stroke="#3a3a3a" stroke-width="0.15">0</text>
<line x1="108.5" y1="402.6" x2="233.3" y2="402.6" stroke="#222" stroke-width="1.25"/>
<line x1="121.5" y1="402.6" x2="121.5" y2="405.2" stroke="#222" stroke-width="1.0"/>
<line x1="141.5" y1="402.6" x2="141.5" y2="405.2" stroke="#222" stroke-width="1.0"/>
<line x1="162.5" y1="402.6" x2="162.5" y2="405.2" stroke="#222" stroke-width="1.0"/>
<line x1="182.5" y1="402.6" x2="182.5" y2="405.2" stroke="#222" stroke-width="1.0"/>
<line x1="203.5" y1="402.6" x2="203.5" y2="405.2" stroke="#222" stroke-width="1.0"/>
<line x1="223.5" y1="402.6" x2="223.5" y2="405.2" stroke="#222" stroke-width="1.0"/>
<text x="121.2" y="414.64" font-size="6.5" text-anchor="middle" fill="#222" stroke="#222" stroke-width="0.15">CO</text>
<text x="141.7" y="414.64" font-size="6.5" text-anchor="middle" fill="#222" stroke="#222" stroke-width="0.15" font-style="italic">KIT</text>
<text x="141.7" y="421.14" font-size="6.5" text-anchor="middle" fill="#222" stroke="#222" stroke-width="0.15">WT</text>
<text x="162.3" y="414.64" font-size="6.5" text-anchor="middle" fill="#222" stroke="#222" stroke-width="0.15" font-style="italic">KIT</text>
<text x="162.3" y="421.14" font-size="6.5" text-anchor="middle" fill="#222" stroke="#222" stroke-width="0.15">D816V</text>
<text x="182.6" y="414.64" font-size="6.5" text-anchor="middle" fill="#222" stroke="#222" stroke-width="0.15">CO</text>
<text x="203.1" y="414.64" font-size="6.5" text-anchor="middle" fill="#222" stroke="#222" stroke-width="0.15" font-style="italic">KIT</text>
<text x="203.1" y="421.14" font-size="6.5" text-anchor="middle" fill="#222" stroke="#222" stroke-width="0.15">WT</text>
<text x="223.6" y="414.64" font-size="6.5" text-anchor="middle" fill="#222" stroke="#222" stroke-width="0.15" font-style="italic">KIT</text>
<text x="223.6" y="421.14" font-size="6.5" text-anchor="middle" fill="#222" stroke="#222" stroke-width="0.15">D816V</text>
<line x1="121.2" y1="428.5" x2="162.3" y2="428.5" stroke="#222" stroke-width="1.0"/>
<line x1="121.5" y1="426.1" x2="121.5" y2="429.9" stroke="#222" stroke-width="1.0"/>
<line x1="162.5" y1="426.1" x2="162.5" y2="429.9" stroke="#222" stroke-width="1.0"/>
<line x1="182.6" y1="428.5" x2="223.6" y2="428.5" stroke="#222" stroke-width="1.0"/>
<line x1="182.5" y1="426.1" x2="182.5" y2="429.9" stroke="#222" stroke-width="1.0"/>
<line x1="223.5" y1="426.1" x2="223.5" y2="429.9" stroke="#222" stroke-width="1.0"/>
<text x="142.2" y="437.24" font-size="6.5" text-anchor="middle" fill="#222" stroke="#222" stroke-width="0.15" textLength="29.6" lengthAdjust="spacingAndGlyphs">+ GM-CSF</text>
<text x="202.7" y="437.24" font-size="6.5" text-anchor="middle" fill="#222" stroke="#222" stroke-width="0.15" textLength="30" lengthAdjust="spacingAndGlyphs">– GM-CSF</text>
<text transform="translate(92.08,357.2) rotate(-90)" x="0" y="0" font-size="6.9" text-anchor="middle" fill="#2a2a2a" stroke="#2a2a2a" stroke-width="0.12" textLength="83" lengthAdjust="spacingAndGlyphs"><tspan font-style="italic">TNF</tspan> mRNA levels (% of <tspan font-style="italic">ABL1</tspan>)</text>
<path d="M202.5,322.4V318.5H223.5V322.4" fill="none" stroke="#222" stroke-width="1.15"/>
<circle cx="209.17" cy="314.6" r="0.95" fill="#222"/>
<circle cx="212.12" cy="314.6" r="0.95" fill="#222"/>
<circle cx="215.07" cy="314.6" r="0.95" fill="#222"/>
<circle cx="218.02" cy="314.6" r="0.95" fill="#222"/>
<rect x="119.6" y="335.4" width="3" height="3" fill="#2a8035"/>
<rect x="118.2" y="347.7" width="3" height="3" fill="#2a8035"/>
<rect x="119.6" y="351.2" width="3" height="3" fill="#2a8035"/>
<line x1="114.8" y1="346.5" x2="127.8" y2="346.5" stroke="#222" stroke-width="1.0"/>
<line x1="121.5" y1="341.5" x2="121.5" y2="350.1" stroke="#222" stroke-width="1.0"/>
<line x1="117.7" y1="341.5" x2="124.8" y2="341.5" stroke="#222" stroke-width="1.0"/>
<line x1="117.7" y1="350.5" x2="124.8" y2="350.5" stroke="#222" stroke-width="1.0"/>
<rect x="139.8" y="330.7" width="3" height="3" fill="#2a8035"/>
<rect x="136.4" y="344.8" width="3" height="3" fill="#2a8035"/>
<rect x="143.3" y="344.6" width="3" height="3" fill="#2a8035"/>
<line x1="134.8" y1="341.5" x2="147.9" y2="341.5" stroke="#222" stroke-width="1.0"/>
<line x1="141.5" y1="336.8" x2="141.5" y2="346.2" stroke="#222" stroke-width="1.0"/>
<line x1="138.4" y1="336.5" x2="144.8" y2="336.5" stroke="#222" stroke-width="1.0"/>
<line x1="138.4" y1="346.5" x2="144.8" y2="346.5" stroke="#222" stroke-width="1.0"/>
<rect x="160.35" y="327.75" width="3.3" height="3.3" fill="#980c2c"/>
<rect x="156.85" y="337.15" width="3.3" height="3.3" fill="#980c2c"/>
<rect x="165.15" y="333.75" width="3.3" height="3.3" fill="#980c2c"/>
<line x1="155.3" y1="334.5" x2="168.8" y2="334.5" stroke="#222" stroke-width="1.0"/>
<line x1="162.5" y1="332.3" x2="162.5" y2="337.3" stroke="#222" stroke-width="1.0"/>
<line x1="158.7" y1="332.5" x2="165.4" y2="332.5" stroke="#222" stroke-width="1.0"/>
<line x1="158.7" y1="337.5" x2="165.4" y2="337.5" stroke="#222" stroke-width="1.0"/>
<rect x="176" y="397.3" width="2.8" height="2.8" fill="#2a8035"/>
<rect x="181.4" y="394.9" width="2.8" height="2.8" fill="#2a8035"/>
<rect x="186.1" y="396.5" width="2.8" height="2.8" fill="#2a8035"/>
<line x1="176" y1="397.6" x2="189.1" y2="397.6" stroke="#1e2a1e" stroke-width="1.5"/>
<rect x="196.2" y="397.5" width="2.8" height="2.8" fill="#2a8035"/>
<rect x="201.2" y="394.5" width="2.8" height="2.8" fill="#2a8035"/>
<rect x="206.3" y="395.8" width="2.8" height="2.8" fill="#2a8035"/>
<line x1="196.2" y1="397.2" x2="209.7" y2="397.2" stroke="#1e2a1e" stroke-width="1.5"/>
<rect x="221.45" y="336.55" width="3.3" height="3.3" fill="#980c2c"/>
<rect x="218.15" y="344.15" width="3.3" height="3.3" fill="#980c2c"/>
<rect x="225.45" y="342.75" width="3.3" height="3.3" fill="#980c2c"/>
<line x1="217" y1="342.5" x2="229.9" y2="342.5" stroke="#222" stroke-width="1.0"/>
<line x1="223.5" y1="340.7" x2="223.5" y2="344.4" stroke="#222" stroke-width="1.0"/>
<line x1="220" y1="340.5" x2="227" y2="340.5" stroke="#222" stroke-width="1.0"/>
<line x1="220" y1="344.5" x2="227" y2="344.5" stroke="#222" stroke-width="1.0"/>
<text x="284.5" y="307.3" font-size="11.5" text-anchor="start" fill="#111" stroke="#111" stroke-width="0.15" font-weight="bold">H</text>
<line x1="326.7" y1="315" x2="326.7" y2="387.8" stroke="#222" stroke-width="1.25"/>
<line x1="326.7" y1="395.5" x2="326.7" y2="402.8" stroke="#222" stroke-width="1.25"/>
<line x1="324.4" y1="387.5" x2="329" y2="387.5" stroke="#222" stroke-width="1.0"/>
<line x1="324.4" y1="395.5" x2="329" y2="395.5" stroke="#222" stroke-width="1.0"/>
<line x1="324.1" y1="318.5" x2="326.7" y2="318.5" stroke="#222" stroke-width="1.0"/>
<text x="321.2" y="320.27" font-size="6.3" text-anchor="end" fill="#3a3a3a" stroke="#3a3a3a" stroke-width="0.15">40</text>
<line x1="324.1" y1="331.5" x2="326.7" y2="331.5" stroke="#222" stroke-width="1.0"/>
<text x="321.2" y="333.72" font-size="6.3" text-anchor="end" fill="#3a3a3a" stroke="#3a3a3a" stroke-width="0.15">35</text>
<line x1="324.1" y1="344.5" x2="326.7" y2="344.5" stroke="#222" stroke-width="1.0"/>
<text x="321.2" y="347.17" font-size="6.3" text-anchor="end" fill="#3a3a3a" stroke="#3a3a3a" stroke-width="0.15">30</text>
<line x1="324.1" y1="358.5" x2="326.7" y2="358.5" stroke="#222" stroke-width="1.0"/>
<text x="321.2" y="360.62" font-size="6.3" text-anchor="end" fill="#3a3a3a" stroke="#3a3a3a" stroke-width="0.15">25</text>
<line x1="324.1" y1="371.5" x2="326.7" y2="371.5" stroke="#222" stroke-width="1.0"/>
<text x="321.2" y="374.07" font-size="6.3" text-anchor="end" fill="#3a3a3a" stroke="#3a3a3a" stroke-width="0.15">20</text>
<line x1="324.1" y1="385.5" x2="326.7" y2="385.5" stroke="#222" stroke-width="1.0"/>
<text x="321.2" y="387.52" font-size="6.3" text-anchor="end" fill="#3a3a3a" stroke="#3a3a3a" stroke-width="0.15">15</text>
<text x="321.2" y="401.27" font-size="6.3" text-anchor="end" fill="#3a3a3a" stroke="#3a3a3a" stroke-width="0.15">&lt;15</text>
<line x1="324.2" y1="402.8" x2="449" y2="402.8" stroke="#222" stroke-width="1.25"/>
<line x1="336.5" y1="402.8" x2="336.5" y2="405.4" stroke="#222" stroke-width="1.0"/>
<line x1="357.5" y1="402.8" x2="357.5" y2="405.4" stroke="#222" stroke-width="1.0"/>
<line x1="378.5" y1="402.8" x2="378.5" y2="405.4" stroke="#222" stroke-width="1.0"/>
<line x1="398.5" y1="402.8" x2="398.5" y2="405.4" stroke="#222" stroke-width="1.0"/>
<line x1="419.5" y1="402.8" x2="419.5" y2="405.4" stroke="#222" stroke-width="1.0"/>
<line x1="439.5" y1="402.8" x2="439.5" y2="405.4" stroke="#222" stroke-width="1.0"/>
<text x="337" y="414.74" font-size="6.5" text-anchor="middle" fill="#222" stroke="#222" stroke-width="0.15">CO</text>
<text x="357.5" y="414.74" font-size="6.5" text-anchor="middle" fill="#222" stroke="#222" stroke-width="0.15" font-style="italic">KIT</text>
<text x="357.5" y="421.14" font-size="6.5" text-anchor="middle" fill="#222" stroke="#222" stroke-width="0.15">WT</text>
<text x="378" y="414.74" font-size="6.5" text-anchor="middle" fill="#222" stroke="#222" stroke-width="0.15" font-style="italic">KIT</text>
<text x="378" y="421.14" font-size="6.5" text-anchor="middle" fill="#222" stroke="#222" stroke-width="0.15">D816V</text>
<text x="398.5" y="414.74" font-size="6.5" text-anchor="middle" fill="#222" stroke="#222" stroke-width="0.15">CO</text>
<text x="419.2" y="414.74" font-size="6.5" text-anchor="middle" fill="#222" stroke="#222" stroke-width="0.15" font-style="italic">KIT</text>
<text x="419.2" y="421.14" font-size="6.5" text-anchor="middle" fill="#222" stroke="#222" stroke-width="0.15">WT</text>
<text x="439.4" y="414.74" font-size="6.5" text-anchor="middle" fill="#222" stroke="#222" stroke-width="0.15" font-style="italic">KIT</text>
<text x="439.4" y="421.14" font-size="6.5" text-anchor="middle" fill="#222" stroke="#222" stroke-width="0.15">D816V</text>
<line x1="336.7" y1="427.5" x2="377.9" y2="427.5" stroke="#222" stroke-width="1.0"/>
<line x1="336.5" y1="425.9" x2="336.5" y2="429.7" stroke="#222" stroke-width="1.0"/>
<line x1="377.5" y1="425.9" x2="377.5" y2="429.7" stroke="#222" stroke-width="1.0"/>
<line x1="398.6" y1="427.5" x2="439" y2="427.5" stroke="#222" stroke-width="1.0"/>
<line x1="398.5" y1="425.9" x2="398.5" y2="429.7" stroke="#222" stroke-width="1.0"/>
<line x1="438.5" y1="425.9" x2="438.5" y2="429.7" stroke="#222" stroke-width="1.0"/>
<text x="358" y="437.24" font-size="6.5" text-anchor="middle" fill="#222" stroke="#222" stroke-width="0.15" textLength="30.7" lengthAdjust="spacingAndGlyphs">+ GM-CSF</text>
<text x="419.4" y="437.24" font-size="6.5" text-anchor="middle" fill="#222" stroke="#222" stroke-width="0.15" textLength="30" lengthAdjust="spacingAndGlyphs">– GM-CSF</text>
<text transform="translate(303.68,356.5) rotate(-90)" x="0" y="0" font-size="6.9" text-anchor="middle" fill="#2a2a2a" stroke="#2a2a2a" stroke-width="0.12" textLength="42" lengthAdjust="spacingAndGlyphs">TNF (pg/mL)</text>
<path d="M357.5,322.8V318.5H378.5V322.8" fill="none" stroke="#222" stroke-width="1.15"/>
<circle cx="365.82" cy="314.6" r="0.95" fill="#222"/>
<circle cx="368.77" cy="314.6" r="0.95" fill="#222"/>
<path d="M418.5,322.8V318.5H439.5V322.8" fill="none" stroke="#222" stroke-width="1.15"/>
<circle cx="424.88" cy="314.7" r="0.95" fill="#222"/>
<circle cx="427.82" cy="314.7" r="0.95" fill="#222"/>
<circle cx="430.77" cy="314.7" r="0.95" fill="#222"/>
<circle cx="433.73" cy="314.7" r="0.95" fill="#222"/>
<rect x="331.85" y="381.15" width="3.3" height="3.3" fill="#2a8035"/>
<rect x="331.85" y="384.35" width="3.3" height="3.3" fill="#2a8035"/>
<rect x="338.25" y="382.15" width="3.3" height="3.3" fill="#2a8035"/>
<line x1="330.3" y1="384.5" x2="343.75" y2="384.5" stroke="#222" stroke-width="1.0"/>
<rect x="355.85" y="371.85" width="3.3" height="3.3" fill="#2a8035"/>
<rect x="355.85" y="374.65" width="3.3" height="3.3" fill="#2a8035"/>
<rect x="355.85" y="386.15" width="3.3" height="3.3" fill="#2a8035"/>
<line x1="351" y1="379.5" x2="364.2" y2="379.5" stroke="#222" stroke-width="1.0"/>
<line x1="357.5" y1="375.8" x2="357.5" y2="384.2" stroke="#222" stroke-width="1.0"/>
<line x1="353.8" y1="375.5" x2="361" y2="375.5" stroke="#222" stroke-width="1.0"/>
<line x1="353.8" y1="384.5" x2="361" y2="384.5" stroke="#222" stroke-width="1.0"/>
<rect x="372.75" y="326.35" width="3.3" height="3.3" fill="#980c2c"/>
<rect x="379.85" y="327.05" width="3.3" height="3.3" fill="#980c2c"/>
<rect x="376.65" y="348.85" width="3.3" height="3.3" fill="#980c2c"/>
<line x1="371.6" y1="335.5" x2="384.5" y2="335.5" stroke="#222" stroke-width="1.0"/>
<line x1="378.5" y1="328.3" x2="378.5" y2="342.9" stroke="#222" stroke-width="1.0"/>
<line x1="375" y1="328.5" x2="381.7" y2="328.5" stroke="#222" stroke-width="1.0"/>
<line x1="375" y1="342.5" x2="381.7" y2="342.5" stroke="#222" stroke-width="1.0"/>
<rect x="391.85" y="395.55" width="3.3" height="3.3" fill="#2a8035"/>
<rect x="397.05" y="395.55" width="3.3" height="3.3" fill="#2a8035"/>
<rect x="402.35" y="395.55" width="3.3" height="3.3" fill="#2a8035"/>
<rect x="412.25" y="395.55" width="3.3" height="3.3" fill="#2a8035"/>
<rect x="417.35" y="395.55" width="3.3" height="3.3" fill="#2a8035"/>
<rect x="422.45" y="395.55" width="3.3" height="3.3" fill="#2a8035"/>
<rect x="438.05" y="341.45" width="3.3" height="3.3" fill="#980c2c"/>
<rect x="438.05" y="349.65" width="3.3" height="3.3" fill="#980c2c"/>
<rect x="438.05" y="361.15" width="3.3" height="3.3" fill="#980c2c"/>
<line x1="433" y1="352.5" x2="446.1" y2="352.5" stroke="#222" stroke-width="1.0"/>
<line x1="439.5" y1="347.1" x2="439.5" y2="358.4" stroke="#222" stroke-width="1.0"/>
<line x1="436.2" y1="347.5" x2="442.8" y2="347.5" stroke="#222" stroke-width="1.0"/>
<line x1="436.2" y1="358.5" x2="442.8" y2="358.5" stroke="#222" stroke-width="1.0"/>
<rect x="0" y="0" width="520" height="1" fill="#585858"/>
<rect x="0" y="0" width="1" height="445" fill="#6a6a6a"/>
<rect x="519" y="0" width="1" height="445" fill="#5a5a5a"/>
<rect x="0" y="444" width="520" height="1" fill="#383838"/>
</svg>
</body></html>
